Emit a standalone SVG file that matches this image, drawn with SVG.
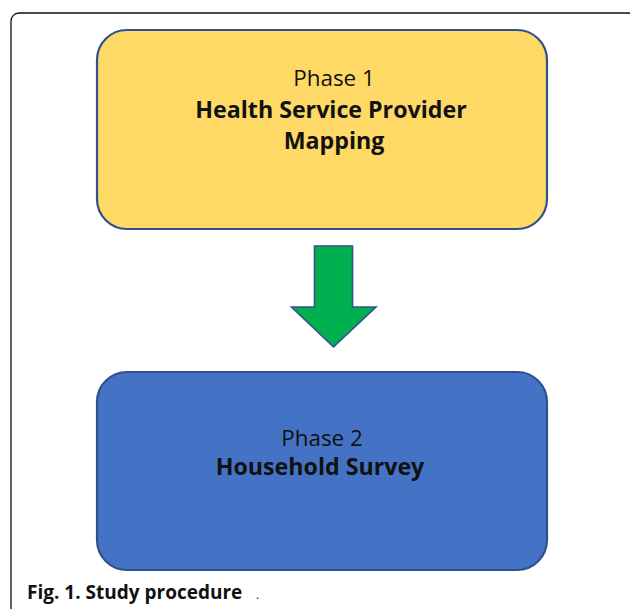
<svg xmlns="http://www.w3.org/2000/svg" width="630" height="609" viewBox="0 0 630 609">
  <style>
    .frame { fill: none; stroke: #111; stroke-width: 1.3; }
    .box { stroke: #2F528F; stroke-width: 2.2; }
    .phase1 { fill: #FFD966; }
    .phase2 { fill: #4472C4; }
    .lbl { font-family: "Open Sans", "Liberation Sans", sans-serif; fill: #111; text-anchor: middle; }
    .light { font-size: 22.4px; font-weight: 400; }
    .bold { font-size: 23.2px; font-weight: 700; }
    .caption { font-family: "Open Sans", "Liberation Sans", sans-serif; font-size: 19px; font-weight: 700; fill: #111; }
    .arrow { fill: #00B050; stroke: #2F528F; stroke-width: 1.6; stroke-linejoin: miter; }
  </style>

  <rect width="630" height="609" fill="#fff"/>

  <!-- figure panel border -->
  <rect class="frame" x="11" y="13" width="625" height="602" rx="8" ry="8"/>

  <!-- phase 1 -->
  <g id="phase1">
    <rect class="box phase1" x="97" y="30" width="450" height="199" rx="30" ry="30"/>
    <text class="lbl light" x="334" y="86">Phase 1</text>
    <text class="lbl bold" x="331" y="118">Health Service Provider</text>
    <text class="lbl bold" x="334" y="149">Mapping</text>
  </g>

  <!-- phase 2 -->
  <g id="phase2">
    <rect class="box phase2" x="97" y="372" width="450" height="198" rx="30" ry="30"/>
    <text class="lbl light" x="322" y="446">Phase 2</text>
    <text class="lbl bold" x="320" y="475">Household Survey</text>
  </g>

  <!-- flow from phase 1 to phase 2 -->
  <g id="connectors">
    <path class="arrow" d="M314.5,246 L352.5,246 L352.5,307 L376,307 L333.5,347 L291.5,307 L314.5,307 Z"/>
  </g>

  <!-- caption -->
  <text class="caption" x="27" y="599">Fig. 1. Study procedure</text>
  <text class="caption" x="256" y="599" style="font-weight:400;font-size:12px">.</text>
</svg>
